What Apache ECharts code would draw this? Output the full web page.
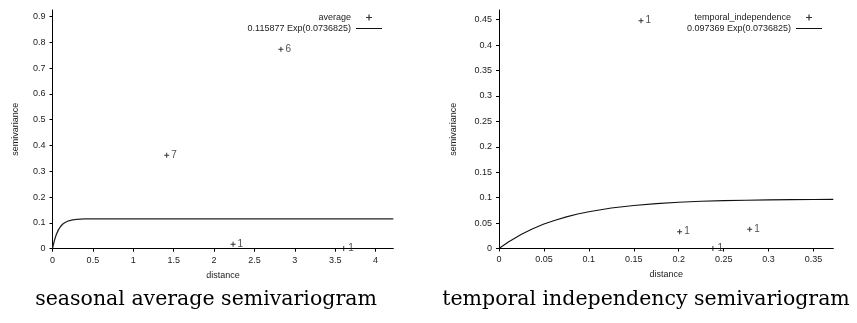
<!DOCTYPE html>
<html>
<head>
<meta charset="utf-8">
<script src="https://cdn.jsdelivr.net/npm/echarts@6/dist/echarts.min.js"></script>
<style>
html,body{margin:0;padding:0;background:#fff;}
#chart{width:857px;height:323px;}
</style>
</head>
<body>
<div id="chart"></div>
<script>
// ---- data ----
const leftDist = [1.414, 2.236, 2.828, 3.606];
const leftGamma = [0.362, 0.017, 0.773, 0.001];
const leftCount = [7, 1, 6, 1];
const leftCurveX = [0, 0.01, 0.02, 0.035, 0.05, 0.075, 0.1, 0.125, 0.15, 0.2, 0.25, 0.3, 0.4, 0.5, 0.75, 1, 2, 3, 4.22];
const leftCurveY = [0, 0.0147, 0.0275, 0.0438, 0.0571, 0.0740, 0.0861, 0.0946, 0.1007, 0.1082, 0.1120, 0.1139, 0.1154, 0.1158, 0.1159, 0.1159, 0.1159, 0.1159, 0.1159];

const rightDist = [0.158, 0.201, 0.238, 0.279];
const rightGamma = [0.448, 0.033, 0.0, 0.038];
const rightCount = [1, 1, 1, 1];
const rightCurveX = [0, 0.01, 0.025, 0.0375, 0.05, 0.0625, 0.075, 0.0875, 0.1, 0.125, 0.15, 0.175, 0.2, 0.225, 0.25, 0.275, 0.3, 0.325, 0.35, 0.372];
const rightCurveY = [0, 0.0124, 0.0280, 0.0388, 0.0480, 0.0557, 0.0622, 0.0677, 0.0723, 0.0795, 0.0847, 0.0883, 0.0909, 0.0928, 0.0941, 0.0950, 0.0957, 0.0962, 0.0965, 0.0967];

const leftXTicks = [0, 0.5, 1, 1.5, 2, 2.5, 3, 3.5, 4];
const leftYTicks = [0, 0.1, 0.2, 0.3, 0.4, 0.5, 0.6, 0.7, 0.8, 0.9];
const rightXTicks = [0, 0.05, 0.1, 0.15, 0.2, 0.25, 0.3, 0.35];
const rightYTicks = [0, 0.05, 0.1, 0.15, 0.2, 0.25, 0.3, 0.35, 0.4, 0.45];

const leftNames = ['average', '0.115877 Exp(0.0736825)'];
const rightNames = ['temporal_independence', '0.097369 Exp(0.0736825)'];
const captions = ['seasonal average semivariogram', 'temporal independency semivariogram'];
const axisNames = ['distance', 'semivariance'];

// ---- build ----
const sans = 'Liberation Sans';
const plus = 'path://M2,0h1v2h2v1h-2v2h-1v-2h-2v-1h2z';
const bar = 'path://M0,0h26v1h-26z';
function zip(xs, ys, cs) { return xs.map((x, i) => cs ? [x, ys[i], cs[i]] : [x, ys[i]]); }

function xAxis(gi, max, interval, ticks) {
  return {
    type: 'value', gridIndex: gi, min: 0, max: max, interval: interval,
    name: axisNames[0], nameLocation: 'middle', nameGap: 22,
    nameTextStyle: { fontFamily: sans, fontSize: 9, color: '#222' },
    axisLine: { show: true, lineStyle: { color: '#000', width: 1 } },
    axisTick: { show: true, length: 3, inside: false, customValues: ticks, lineStyle: { color: '#000' } },
    axisLabel: { margin: 7, fontFamily: sans, fontSize: 9, color: '#222', customValues: ticks },
    splitLine: { show: false }
  };
}
function yAxis(gi, max, interval, ticks, gap) {
  return {
    type: 'value', gridIndex: gi, min: 0, max: max, interval: interval,
    name: axisNames[1], nameLocation: 'middle', nameGap: gap,
    nameTextStyle: { fontFamily: sans, fontSize: 9, color: '#222' },
    axisLine: { show: true, lineStyle: { color: '#000', width: 1 } },
    axisTick: { show: true, length: 3, inside: false, customValues: ticks, lineStyle: { color: '#000' } },
    axisLabel: { margin: 7, fontFamily: sans, fontSize: 9, color: '#222', customValues: ticks },
    splitLine: { show: false }
  };
}
function scatter(name, gi, data) {
  return {
    name: name, type: 'scatter', xAxisIndex: gi, yAxisIndex: gi,
    data: data, symbol: plus, symbolSize: 5,
    itemStyle: { color: '#000' },
    label: { show: true, position: 'right', distance: 2, fontFamily: sans, fontSize: 10, color: '#222',
      formatter: p => String(p.value[2]) },
    emphasis: { disabled: true }, z: 3
  };
}
function curve(name, gi, data, color, width) {
  return {
    name: name, type: 'line', xAxisIndex: gi, yAxisIndex: gi,
    data: data, showSymbol: false, symbol: 'none', smooth: false,
    lineStyle: { color: color, width: width }, itemStyle: { color: color },
    emphasis: { disabled: true }, z: 2
  };
}
function legend(names, right) {
  return {
    orient: 'vertical', align: 'right', right: right, top: 12,
    itemWidth: 26, itemHeight: 6, itemGap: 0, padding: 0,
    selectedMode: false,
    textStyle: { fontFamily: sans, fontSize: 9, color: '#222', lineHeight: 11 },
    data: [
      { name: names[0], icon: plus, itemStyle: { color: '#000' } },
      { name: names[1], icon: bar, itemStyle: { color: '#111' }, lineStyle: { width: 0 } }
    ]
  };
}

const chart = echarts.init(document.getElementById('chart'), null, { renderer: 'canvas' });
chart.setOption({
  animation: false,
  backgroundColor: '#fff',
  grid: [
    { left: 52.5, top: 10, width: 340.8, height: 238.7 },
    { left: 499, top: 10, width: 334.3, height: 238.5 }
  ],
  xAxis: [xAxis(0, 4.22, 0.5, leftXTicks), xAxis(1, 0.372, 0.05, rightXTicks)],
  yAxis: [yAxis(0, 0.925, 0.1, leftYTicks, 32), yAxis(1, 0.469, 0.05, rightYTicks, 41)],
  legend: [legend(leftNames, 475), legend(rightNames, 35)],
  series: [
    scatter(leftNames[0], 0, zip(leftDist, leftGamma, leftCount)),
    curve(leftNames[1], 0, zip(leftCurveX, leftCurveY), '#222', 1.3),
    scatter(rightNames[0], 1, zip(rightDist, rightGamma, rightCount)),
    curve(rightNames[1], 1, zip(rightCurveX, rightCurveY), '#111', 1.1)
  ],
  graphic: [
    { type: 'text', x: 206, y: 300, style: { text: captions[0], font: '20.5px "DejaVu Serif"', fill: '#000', textAlign: 'center', textVerticalAlign: 'middle' } },
    { type: 'text', x: 646, y: 300, style: { text: captions[1], font: '20.5px "DejaVu Serif"', fill: '#000', textAlign: 'center', textVerticalAlign: 'middle' } }
  ]
});
</script>
</body>
</html>
